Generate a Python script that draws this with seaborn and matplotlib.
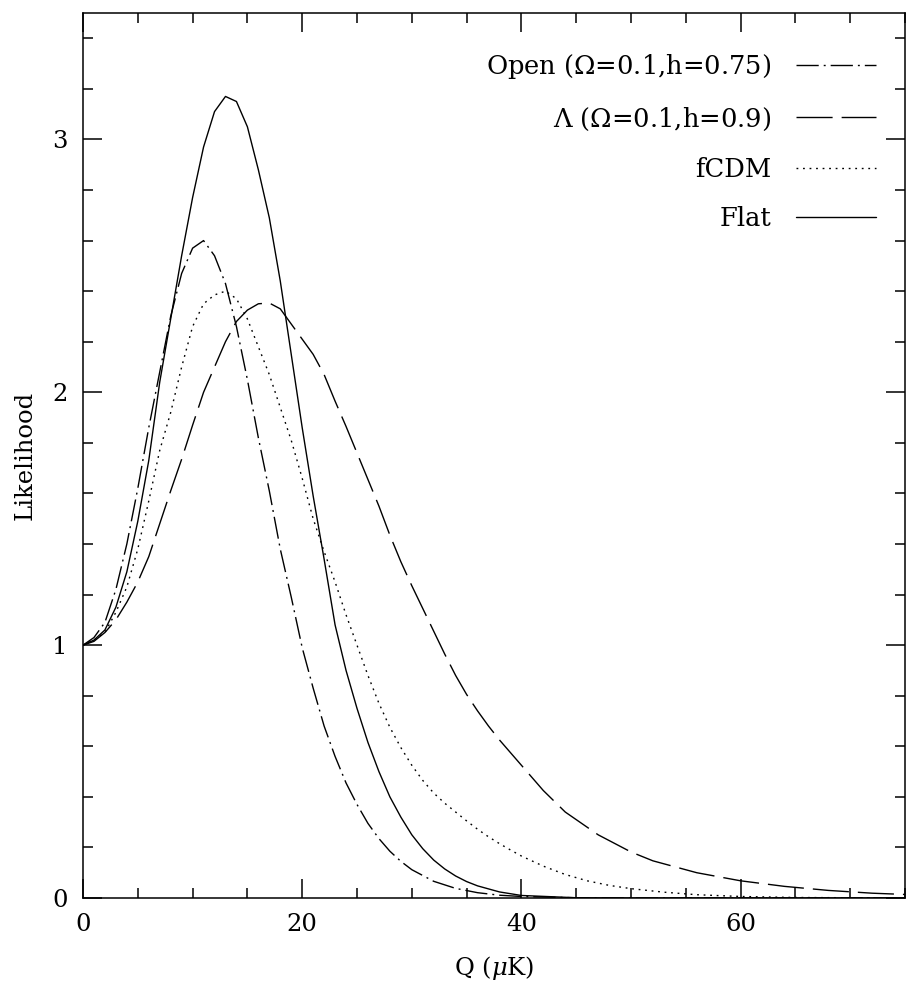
import numpy as np
import pandas as pd
import matplotlib
matplotlib.use("Agg")
import matplotlib.pyplot as plt
from matplotlib.ticker import MultipleLocator
import seaborn as sns

# ---------------- data ----------------
labels = ["Open ($\\Omega$=0.1,h=0.75)", "$\\Lambda$ ($\\Omega$=0.1,h=0.9)", "fCDM", "Flat"]

q_open = [0, 1, 2, 3, 4, 5, 6, 7, 8, 9, 10, 11, 12, 13, 14, 15, 16, 17, 18, 19, 20,
          21, 22, 23, 24, 25, 26, 27, 28, 29, 30, 32, 34, 36, 38, 40, 45, 50, 75]
l_open = [1.0, 1.03, 1.09, 1.22, 1.40, 1.62, 1.86, 2.08, 2.30, 2.47, 2.57, 2.60, 2.54,
          2.43, 2.26, 2.05, 1.82, 1.61, 1.38, 1.19, 0.99, 0.83, 0.68, 0.56, 0.455, 0.37,
          0.295, 0.235, 0.185, 0.145, 0.112, 0.066, 0.038, 0.021, 0.011, 0.006, 0.001, 0.0, 0.0]

q_lam = [0, 1, 2, 3, 4, 5, 6, 7, 8, 9, 10, 11, 12, 13, 14, 15, 16, 17, 18, 19, 20,
         21, 22, 23, 24, 25, 26, 27, 28, 29, 30, 31, 32, 33, 34, 35, 36, 37, 38, 40,
         42, 44, 47, 50, 52, 56, 60, 64, 68, 72, 75]
l_lam = [1.0, 1.015, 1.05, 1.10, 1.17, 1.25, 1.35, 1.48, 1.61, 1.735, 1.87, 2.00, 2.10,
         2.20, 2.28, 2.325, 2.35, 2.353, 2.33, 2.27, 2.21, 2.15, 2.07, 1.965, 1.865, 1.76,
         1.655, 1.55, 1.435, 1.33, 1.235, 1.145, 1.055, 0.965, 0.88, 0.805, 0.74, 0.68, 0.625,
         0.525, 0.425, 0.34, 0.25, 0.182, 0.147, 0.10, 0.068, 0.046, 0.030, 0.019, 0.014]

q_fcdm = [0, 1, 2, 3, 4, 5, 6, 7, 8, 9, 10, 11, 12, 13, 14, 15, 16, 17, 18, 19, 20,
          21, 22, 23, 24, 25, 26, 27, 28, 29, 30, 31, 32, 33, 34, 35, 36, 37, 38, 39,
          40, 42, 44, 46, 48, 50, 53, 56, 60, 65, 70, 75]
l_fcdm = [1.0, 1.02, 1.05, 1.13, 1.23, 1.38, 1.57, 1.77, 1.92, 2.10, 2.26, 2.35, 2.385,
          2.40, 2.37, 2.29, 2.18, 2.07, 1.94, 1.81, 1.66, 1.50, 1.37, 1.25, 1.12, 1.00,
          0.88, 0.77, 0.675, 0.595, 0.525, 0.465, 0.415, 0.375, 0.34, 0.305, 0.272, 0.242,
          0.215, 0.19, 0.166, 0.126, 0.093, 0.068, 0.05, 0.037, 0.023, 0.013, 0.006, 0.002,
          0.001, 0.0]

q_flat = [0, 1, 2, 3, 4, 5, 6, 7, 8, 9, 10, 11, 12, 13, 14, 15, 16, 17, 18, 19, 20,
          21, 22, 23, 24, 25, 26, 27, 28, 29, 30, 31, 32, 33, 34, 35, 36, 38, 40, 45, 50, 75]
l_flat = [1.0, 1.02, 1.06, 1.15, 1.29, 1.49, 1.73, 2.04, 2.29, 2.54, 2.77, 2.97, 3.11,
          3.17, 3.15, 3.05, 2.88, 2.69, 2.44, 2.15, 1.86, 1.59, 1.34, 1.08, 0.90, 0.75,
          0.615, 0.50, 0.40, 0.32, 0.25, 0.195, 0.15, 0.115, 0.087, 0.065, 0.048, 0.024,
          0.01, 0.001, 0.0, 0.0]

x_ticks = [0, 20, 40, 60]
y_ticks = [0, 1, 2, 3]

# ---------------- styling ----------------
sns.set_theme(style="ticks")
plt.rcParams["font.family"] = ["DejaVu Serif", "DejaVu Sans"]
plt.rcParams["mathtext.fontset"] = "dejavuserif"
plt.rcParams["axes.linewidth"] = 1.1
plt.rcParams["text.color"] = "black"
plt.rcParams["axes.labelcolor"] = "black"
plt.rcParams["xtick.color"] = "black"
plt.rcParams["ytick.color"] = "black"

fig = plt.figure(figsize=(9.06, 9.88), dpi=100)
ax = fig.add_axes([83 / 906, 1 - 898 / 988, (905 - 83) / 906, (898 - 13) / 988])

styles = [
    (0, (16, 3.6, 1.4, 3.6)),   # dash-dot
    (0, (26, 6.5)),             # long dash
    (0, (1.3, 3.4)),            # dotted
    "-",                        # solid
]
series = [(q_open, l_open), (q_lam, l_lam), (q_fcdm, l_fcdm), (q_flat, l_flat)]

handles = []
for (q, l), lab, ls in zip(series, labels, styles):
    df = pd.DataFrame({"Q": q, "L": l})
    sns.lineplot(data=df, x="Q", y="L", ax=ax, color="black", linewidth=1.0,
                 estimator=None, sort=False, legend=False)
    line = ax.lines[-1]
    line.set_linestyle(ls)
    line.set_label(lab)
    handles.append(line)

ax.set_xlim(0, 75)
ax.set_ylim(0, 3.5)
ax.set_xticks(x_ticks)
ax.set_yticks(y_ticks)
ax.xaxis.set_minor_locator(MultipleLocator(5))
ax.yaxis.set_minor_locator(MultipleLocator(0.2))
ax.tick_params(which="both", direction="in", top=True, right=True, width=1.1,
               colors="black", labelsize=17.5)
ax.tick_params(which="major", length=14, pad=11)
ax.tick_params(which="minor", length=7)
for s in ax.spines.values():
    s.set_color("black")

ax.set_xlabel("Q ($\\mu$K)", fontsize=17.5, labelpad=13)
ax.set_ylabel("Likelihood", fontsize=17.5, labelpad=11)

leg = ax.legend(handles, labels, loc="upper right", bbox_to_anchor=(0.986, 0.976),
                frameon=False, markerfirst=False, fontsize=18.5, handlelength=3.1,
                handletextpad=0.95, labelspacing=0.94, borderpad=0.2)
for t in leg.get_texts():
    t.set_color("black")

fig.savefig("out.png", dpi=100)
